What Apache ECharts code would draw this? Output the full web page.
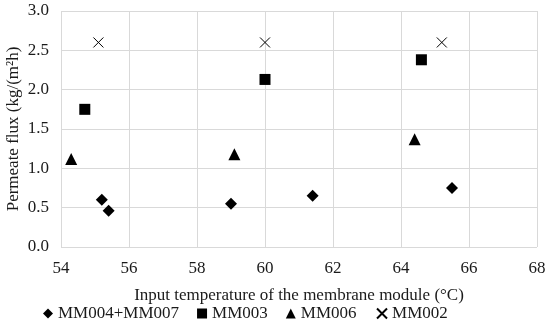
<!DOCTYPE html>
<html><head><meta charset="utf-8">
<script src="https://cdn.jsdelivr.net/npm/echarts@6/dist/echarts.min.js"></script>
<style>html,body{margin:0;padding:0;background:#fff}#c{width:550px;height:327px}</style>
</head><body><div id="c"></div>
<script>
const seriesNames = ['MM004+MM007', 'MM003', 'MM006', 'MM002'];
const mm004x = [55.2, 55.4, 59.0, 61.4, 65.5];
const mm004y = [0.60, 0.46, 0.55, 0.65, 0.75];
const mm003x = [54.7, 60.0, 64.6];
const mm003y = [1.75, 2.13, 2.38];
const mm006x = [54.3, 59.1, 64.4];
const mm006y = [1.12, 1.18, 1.37];
const mm002x = [55.1, 60.0, 65.2];
const mm002y = [2.60, 2.60, 2.60];
const xTicks = [54, 56, 58, 60, 62, 64, 66, 68];
const yTicks = [0.0, 0.5, 1.0, 1.5, 2.0, 2.5, 3.0];

const zip = (a, b) => a.map((v, i) => [v, b[i]]);
const font = 'Liberation Serif';
const fs = 17;
const crossPath = 'path://M0,0L10,10M10,0L0,10';
const chart = echarts.init(document.getElementById('c'));
chart.setOption({
  animation: false,
  textStyle: { fontFamily: font },
  grid: { left: 61, right: 13, top: 11, bottom: 80, containLabel: false, outerBoundsMode: 'none' },
  xAxis: {
    type: 'value', min: xTicks[0], max: xTicks[xTicks.length - 1], interval: 2,
    name: 'Input temperature of the membrane module (°C)',
    nameLocation: 'middle', nameGap: 40, nameMoveOverlap: false,
    nameTextStyle: { fontFamily: font, fontSize: fs, color: '#1a1a1a' },
    axisLine: { show: false }, axisTick: { show: false },
    axisLabel: { fontFamily: font, fontSize: fs, color: '#1a1a1a', margin: 13 },
    splitLine: { show: true, lineStyle: { color: '#d9d9d9', width: 1 } }
  },
  yAxis: {
    type: 'value', min: yTicks[0], max: yTicks[yTicks.length - 1], interval: 0.5,
    name: 'Permeate flux (kg/(m²h)', nameLocation: 'middle', nameGap: 39, nameMoveOverlap: false,
    nameTextStyle: { fontFamily: font, fontSize: fs, color: '#1a1a1a' },
    axisLine: { show: false }, axisTick: { show: false },
    axisLabel: { fontFamily: font, fontSize: fs, color: '#1a1a1a', margin: 12,
      formatter: v => v.toFixed(1) },
    splitLine: { show: true, lineStyle: { color: '#d9d9d9', width: 1 } }
  },
  legend: {
    bottom: 0, left: 38, itemGap: 18, itemWidth: 10, itemHeight: 10,
    textStyle: { fontFamily: font, fontSize: fs, color: '#1a1a1a' },
    data: seriesNames
  },
  series: [
    { name: seriesNames[0], type: 'scatter', symbol: 'diamond', symbolSize: 12,
      itemStyle: { color: '#000', opacity: 1 }, data: zip(mm004x, mm004y) },
    { name: seriesNames[1], type: 'scatter', symbol: 'rect', symbolSize: 11,
      itemStyle: { color: '#000', opacity: 1 }, data: zip(mm003x, mm003y) },
    { name: seriesNames[2], type: 'scatter', symbol: 'triangle', symbolSize: 12,
      itemStyle: { color: '#000', opacity: 1 }, data: zip(mm006x, mm006y) },
    { name: seriesNames[3], type: 'scatter', symbol: crossPath, symbolSize: 10,
      itemStyle: { color: 'none', borderColor: '#000', borderWidth: 1, opacity: 1 },
      data: zip(mm002x, mm002y) }
  ]
});
</script></body></html>
